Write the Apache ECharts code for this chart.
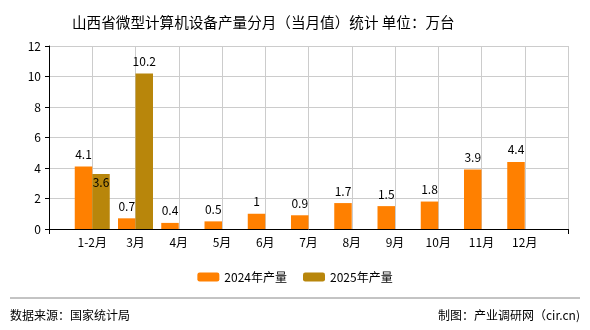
<!DOCTYPE html>
<html><head><meta charset="utf-8">
<script src="https://cdn.jsdelivr.net/npm/echarts@6/dist/echarts.min.js"></script>
<style>html,body{margin:0;padding:0;background:#fff}#c{width:590px;height:330px}</style>
</head><body><div id="c"></div>
<script>
var categories = ['', '1-2月', '3月', '4月', '5月', '6月', '7月', '8月', '9月', '10月', '11月', '12月', ''];
var values2024 = [null, 4.1, 0.7, 0.4, 0.5, 1, 0.9, 1.7, 1.5, 1.8, 3.9, 4.4, null];
var values2025 = [null, 3.6, 10.2, null, null, null, null, null, null, null, null, null, null];
var yTicks = [0, 2, 4, 6, 8, 10, 12];
var FONT = "SimSun, 'Noto Sans CJK SC', sans-serif";
var chart = echarts.init(document.getElementById('c'));
var d2025 = values2025.map(function (v, i) {
  if (i === 1) return { value: v, label: { position: 'insideTop', distance: 2 } };
  return v;
});
chart.setOption({
  animation: false,
  textStyle: { fontFamily: FONT },
  title: {
    text: '山西省微型计算机设备产量分月（当月值）统计 单位：万台',
    left: 67, top: 10,
    textStyle: { fontSize: 14.6, fontWeight: 'normal', color: '#000', fontFamily: FONT }
  },
  legend: {
    bottom: 42, left: 'center',
    itemWidth: 22, itemHeight: 9, itemGap: 16,
    textStyle: { fontSize: 12, color: '#000', fontFamily: FONT },
    data: ['2024年产量', '2025年产量']
  },
  grid: { left: 49, right: 22, top: 46, bottom: 101 },
  xAxis: {
    type: 'category', data: categories, boundaryGap: false,
    axisLine: { lineStyle: { color: '#000' } },
    axisTick: { show: true, interval: function (i) { return i === 0 || i === categories.length - 1; }, length: 5, lineStyle: { color: '#000' } },
    axisLabel: { interval: 0, color: '#000', fontSize: 12, margin: 7 },
    splitLine: { show: true, lineStyle: { color: '#cccccc' } }
  },
  yAxis: {
    type: 'value', min: yTicks[0], max: yTicks[yTicks.length - 1], interval: 2,
    axisLine: { show: true, lineStyle: { color: '#000' } },
    axisTick: { show: true, length: 4, lineStyle: { color: '#000' } },
    axisLabel: { color: '#000', fontSize: 12, margin: 8 },
    splitLine: { show: true, lineStyle: { color: '#cccccc' } }
  },
  graphic: [
    { type: 'line', shape: { x1: 10, y1: 298, x2: 580, y2: 298 }, style: { stroke: '#888', lineWidth: 1 } },
    { type: 'text', left: 10, top: 309, style: { text: '数据来源：国家统计局', fontSize: 12, fill: '#000', fontFamily: FONT } },
    { type: 'text', right: 10, top: 309, style: { text: '制图：产业调研网（cir.cn)', fontSize: 12, fill: '#000', fontFamily: FONT } }
  ],
  series: [
    { name: '2024年产量', type: 'bar', data: values2024, barWidth: 17.5, barGap: '0%',
      itemStyle: { color: '#FF8000' },
      label: { show: true, position: 'top', distance: 6, color: '#000', fontSize: 12 } },
    { name: '2025年产量', type: 'bar', data: d2025, barWidth: 17.5, barGap: '0%',
      itemStyle: { color: '#B8860B' },
      label: { show: true, position: 'top', distance: 6, color: '#000', fontSize: 12 } }
  ]
});
</script></body></html>
